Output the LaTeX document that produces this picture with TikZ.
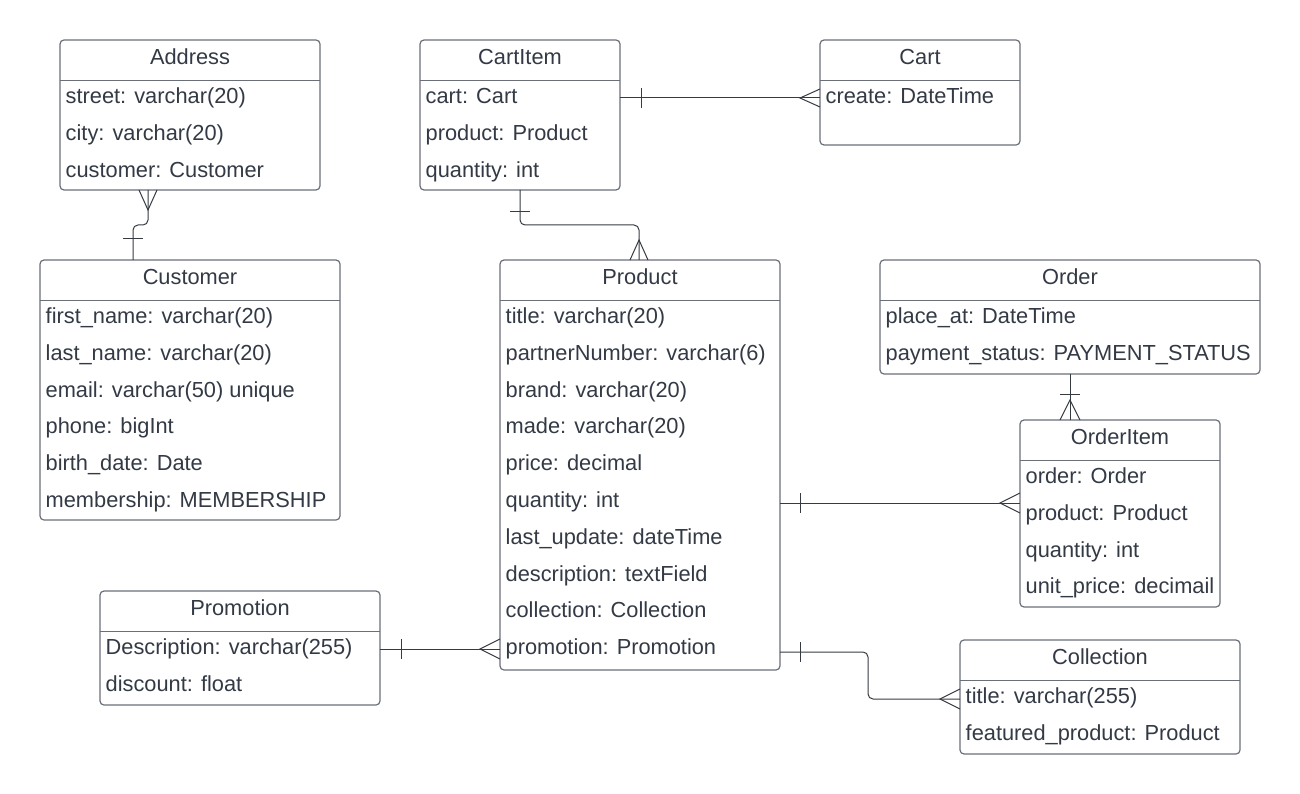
\documentclass[tikz,border=0pt]{standalone}
\usepackage{fontspec}
\setmainfont{Liberation Sans}
\usetikzlibrary{calc}
\definecolor{txtc}{HTML}{333A45}
\definecolor{bordc}{HTML}{6B7078}
\definecolor{connc}{HTML}{363B42}
\tikzset{
  entbox/.style={draw=bordc, line width=1.2pt, rounded corners=4pt, inner sep=0pt, outer sep=0pt, fill=white, anchor=north west},
  sepline/.style={draw=bordc, line width=1.2pt},
  enttitle/.style={inner sep=0pt, anchor=base, text=txtc, font=\fontsize{21.8}{26}\selectfont},
  entrow/.style={inner sep=0pt, anchor=base west, text=txtc, font=\fontsize{21.8}{26}\selectfont},
  conn/.style={draw=connc, line width=1pt},
}
% #1 name, #2 x, #3 y, #4 width, #5 height, #6 title
\newcommand\erbox[6]{%
  \node[entbox, minimum width=#4pt, minimum height=#5pt] (#1) at (#2,#3) {};
  \node[enttitle] (#1-t) at ([yshift=-24.5pt]#1.north) {#6};
  \draw[sepline] ([yshift=-40.5pt]#1.north west) -- ([yshift=-40.5pt]#1.north east);
}
% #1 box name, #2 index (1..), #3 text
\newcommand\errow[3]{%
  \node[entrow] (#1-#2) at ([xshift=5.5pt, yshift={-(63.5+36.8*(#2-1))*1pt}]#1.north west) {#3};
}
\begin{document}
\begin{tikzpicture}[x=1pt, y=-1pt]
\useasboundingbox[fill=white] (0,0) rectangle (1300,794);

% Address
\erbox{address}{60}{40}{260}{150}{Address}
\errow{address}{1}{street: varchar(20)}
\errow{address}{2}{city: varchar(20)}
\errow{address}{3}{customer: Customer}

% Customer
\erbox{customer}{40}{260}{300}{260}{Customer}
\errow{customer}{1}{first\_name: varchar(20)}
\errow{customer}{2}{last\_name: varchar(20)}
\errow{customer}{3}{email: varchar(50) unique}
\errow{customer}{4}{phone: bigInt}
\errow{customer}{5}{birth\_date: Date}
\errow{customer}{6}{membership: MEMBERSHIP}

% CartItem
\erbox{cartitem}{420}{40}{200}{150}{CartItem}
\errow{cartitem}{1}{cart: Cart}
\errow{cartitem}{2}{product: Product}
\errow{cartitem}{3}{quantity: int}

% Cart
\erbox{cart}{820}{40}{200}{105}{Cart}
\errow{cart}{1}{create: DateTime}

% Product
\erbox{product}{500}{260}{280}{410}{Product}
\errow{product}{1}{title: varchar(20)}
\errow{product}{2}{partnerNumber: varchar(6)}
\errow{product}{3}{brand: varchar(20)}
\errow{product}{4}{made: varchar(20)}
\errow{product}{5}{price: decimal}
\errow{product}{6}{quantity: int}
\errow{product}{7}{last\_update: dateTime}
\errow{product}{8}{description: textField}
\errow{product}{9}{collection: Collection}
\errow{product}{10}{promotion: Promotion}

% Order
\erbox{order}{880}{260}{380}{114}{Order}
\errow{order}{1}{place\_at: DateTime}
\errow{order}{2}{payment\_status: PAYMENT\_STATUS}

% OrderItem
\erbox{orderitem}{1020}{420}{200}{187}{OrderItem}
\errow{orderitem}{1}{order: Order}
\errow{orderitem}{2}{product: Product}
\errow{orderitem}{3}{quantity: int}
\errow{orderitem}{4}{unit\_price: decimail}

% Promotion
\erbox{promotion}{100}{591}{280}{114}{Promotion}
\errow{promotion}{1}{Description: varchar(255)}
\errow{promotion}{2}{discount: float}

% Collection
\erbox{collection}{960}{640}{280}{114}{Collection}
\errow{collection}{1}{title: varchar(255)}
\errow{collection}{2}{featured\_product: Product}

% connector end points
\coordinate (ad-s) at ([xshift=88pt]address.south west);
\coordinate (cu-n) at ([xshift=93pt]customer.north west);
\coordinate (ci-e) at ([yshift=-58pt]cartitem.north east);
\coordinate (ca-w) at ([yshift=-58pt]cart.north west);
\coordinate (ci-s) at ([xshift=100pt]cartitem.south west);
\coordinate (pr-n) at ([xshift=139pt]product.north west);
\coordinate (or-s) at ([xshift=190pt]order.south west);
\coordinate (oi-n) at ([xshift=50pt]orderitem.north west);
\coordinate (pr-e1) at ([yshift=-243pt]product.north east);
\coordinate (oi-w) at ([yshift=-83pt]orderitem.north west);
\coordinate (pm-e) at ([yshift=-58pt]promotion.north east);
\coordinate (pr-w) at ([yshift=-389pt]product.north west);
\coordinate (pr-e2) at ([yshift=-392pt]product.north east);
\coordinate (co-w) at ([yshift=-59pt]collection.north west);

% Address -- Customer
\draw[conn, rounded corners=5pt] (ad-s) -- ++(0,35) -| (cu-n);
\draw[conn] (ad-s) ++(-9,0) -- ++(9,20) -- ++(9,-20);
\draw[conn] (cu-n) ++(-10,-21) -- ++(20,0);

% CartItem -- Cart
\draw[conn] (ci-e) -- (ca-w);
\draw[conn] (ci-e) ++(21,-10) -- ++(0,20);
\draw[conn] (ca-w) ++(0,-9) -- ++(-20,9) -- ++(20,9);

% CartItem -- Product
\draw[conn, rounded corners=5pt] (ci-s) -- ++(0,35) -| (pr-n);
\draw[conn] (ci-s) ++(-10,22) -- ++(20,0);
\draw[conn] (pr-n) ++(-9,0) -- ++(9,-20) -- ++(9,20);

% Order -- OrderItem
\draw[conn] (or-s) -- (oi-n);
\draw[conn] (or-s) ++(-10,20) -- ++(20,0);
\draw[conn] (oi-n) ++(-10,0) -- ++(10,-20) -- ++(10,20);

% Product -- OrderItem
\draw[conn] (pr-e1) -- (oi-w);
\draw[conn] (pr-e1) ++(20,-10) -- ++(0,20);
\draw[conn] (oi-w) ++(0,-10) -- ++(-20,10) -- ++(20,10);

% Promotion -- Product
\draw[conn] (pm-e) -- (pr-w);
\draw[conn] (pm-e) ++(21,-10) -- ++(0,20);
\draw[conn] (pr-w) ++(0,-10) -- ++(-20,10) -- ++(20,10);

% Product -- Collection
\draw[conn, rounded corners=5pt] (pr-e2) -- ++(88,0) |- (co-w);
\draw[conn] (pr-e2) ++(20,-10) -- ++(0,20);
\draw[conn] (co-w) ++(0,-10) -- ++(-20,10) -- ++(20,10);
\end{tikzpicture}
\end{document}
